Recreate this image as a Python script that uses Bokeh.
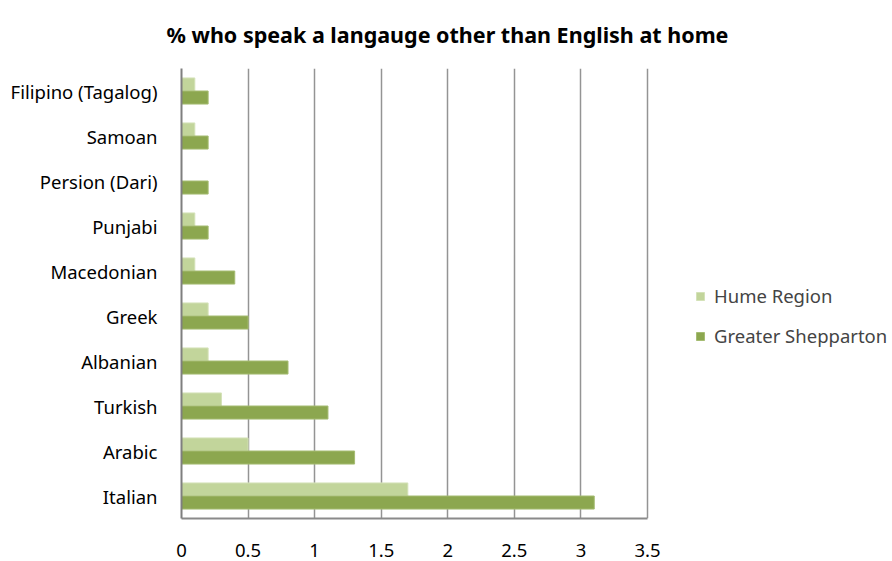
from bokeh.plotting import figure
from bokeh.models import ColumnDataSource, FactorRange, Range1d, FixedTicker, Legend, LegendItem, Title
from bokeh.transform import dodge
from bokeh.embed import file_html
from bokeh.resources import INLINE

title_text = "% who speak a langauge other than English at home"
languages = ["Italian", "Arabic", "Turkish", "Albanian", "Greek",
             "Macedonian", "Punjabi", "Persion (Dari)", "Samoan", "Filipino (Tagalog)"]
hume_region = [1.7, 0.5, 0.3, 0.2, 0.2, 0.1, 0.1, 0.0, 0.1, 0.1]
greater_shepparton = [3.1, 1.3, 1.1, 0.8, 0.5, 0.4, 0.2, 0.2, 0.2, 0.2]
series_names = ["Hume Region", "Greater Shepparton"]
x_ticks = [0, 0.5, 1, 1.5, 2, 2.5, 3, 3.5]
x_tick_labels = ["0", "0.5", "1", "1.5", "2", "2.5", "3", "3.5"]
x_axis_max = 3.5

src = ColumnDataSource(dict(lang=languages, hume=hume_region, gs=greater_shepparton))

FONT = "Noto Sans"
W, H = 892, 561
LEFT, RIGHT_AXIS_END, RIGHT_EDGE = 181, 647, 890
# extend the visible x range so that the legend fits inside the frame, right of the axis end
x_end = x_axis_max * (RIGHT_EDGE - LEFT) / (RIGHT_AXIS_END - LEFT)

p = figure(width=W, height=H, output_backend="svg", toolbar_location=None,
           y_range=FactorRange(*languages), x_range=Range1d(0, x_end),
           min_border_left=LEFT, min_border_right=W - RIGHT_EDGE, min_border_top=68, min_border_bottom=43)

bottom_axis = p.below[0]
left_axis = p.left[0]

t = Title(text=title_text, align="left", vertical_align="top", offset=-15, text_font=FONT,
          text_font_size="21.5px", text_font_style="bold", text_color="#000000", standoff=36)
p.add_layout(t, "above")

r1 = p.hbar(y=dodge("lang", 0.145, range=p.y_range), right="hume", left=0, height=0.29,
            source=src, fill_color="#C2D59B", line_color="#D4E2B8", line_width=1)
r2 = p.hbar(y=dodge("lang", -0.145, range=p.y_range), right="gs", left=0, height=0.29,
            source=src, fill_color="#8CA74F", line_color="#A5BC72", line_width=1)

bottom_axis.ticker = FixedTicker(ticks=x_ticks)
bottom_axis.bounds = (0, x_axis_max)
bottom_axis.major_label_overrides = {k: v for k, v in zip(x_ticks, x_tick_labels)}
for ax in (bottom_axis, left_axis):
    ax.major_tick_line_color = None
    ax.minor_tick_line_color = None
    ax.major_label_text_font = FONT
    ax.major_label_text_font_size = "18.5px"
    ax.major_label_text_color = "#000000"
bottom_axis.axis_line_color = "#8a8a8a"
bottom_axis.axis_line_width = 2
bottom_axis.major_label_standoff = 19
left_axis.axis_line_color = "#7f7f7f"
left_axis.axis_line_width = 2
left_axis.major_label_standoff = 18

p.ygrid.grid_line_color = None
p.xgrid.grid_line_color = "#949494"
p.xgrid.grid_line_width = 1.5
p.xgrid.ticker = FixedTicker(ticks=x_ticks)
p.outline_line_color = None

legend = Legend(items=[LegendItem(label=series_names[0], renderers=[r1]),
                       LegendItem(label=series_names[1], renderers=[r2])],
                location=(514, 170), padding=0, margin=0, spacing=15,
                glyph_width=10, glyph_height=10, label_height=20, label_standoff=9,
                label_text_font=FONT, label_text_font_size="18.5px",
                border_line_color=None, background_fill_alpha=0)
p.add_layout(legend, "center")

open("out.html", "w").write(file_html(p, INLINE))
